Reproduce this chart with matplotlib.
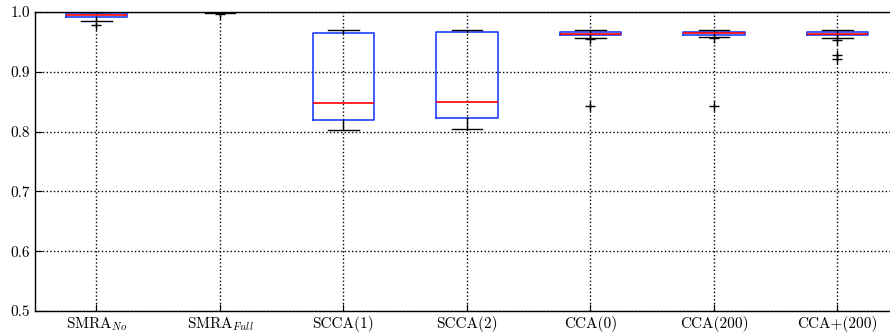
import matplotlib
matplotlib.use("Agg")
import matplotlib.pyplot as plt

plt.rcParams['font.family'] = 'cmr10'
plt.rcParams['mathtext.fontset'] = 'cm'
plt.rcParams['axes.formatter.use_mathtext'] = True

labels = [r'SMRA$_{No}$', r'SMRA$_{Full}$', 'SCCA(1)', 'SCCA(2)',
          'CCA(0)', 'CCA(200)', 'CCA+(200)']
q1 = [0.9921, 0.9995, 0.8194, 0.8222, 0.9615, 0.9620, 0.9615]
med = [0.9945, 1.0000, 0.8473, 0.8490, 0.9640, 0.9645, 0.9640]
q3 = [0.9978, 1.0000, 0.9644, 0.9666, 0.9670, 0.9670, 0.9660]
whislo = [0.9855, 0.9975, 0.8027, 0.8043, 0.9570, 0.9580, 0.9565]
whishi = [1.0000, 1.0000, 0.9700, 0.9700, 0.9700, 0.9700, 0.9700]
fliers = [[0.978], [0.9965], [], [], [0.955, 0.842], [0.956, 0.842],
          [0.953, 0.928, 0.921]]

stats = []
for i in range(len(labels)):
    stats.append(dict(label=labels[i], q1=q1[i], med=med[i], q3=q3[i],
                      whislo=whislo[i], whishi=whishi[i], fliers=fliers[i]))

fig = plt.figure(figsize=(8.9, 3.36), dpi=100)
ax = fig.add_axes([34.75 / 890, 25 / 336, 864.5 / 890, 299 / 336])

ax.bxp(stats, widths=0.5,
       boxprops=dict(color='#1f3fff', linewidth=1.2),
       medianprops=dict(color='red', linewidth=1.2),
       whiskerprops=dict(color='black', linewidth=1.0),
       capprops=dict(color='black', linewidth=1.0),
       flierprops=dict(marker='+', markeredgecolor='black', markersize=7,
                       linestyle='none'))

ax.set_ylim(0.5, 1.0)
ax.set_xlim(0.5, 7.5)
ax.set_yticks([0.5, 0.6, 0.7, 0.8, 0.9, 1.0])
ax.set_yticklabels(['0.5', '0.6', '0.7', '0.8', '0.9', '1.0'])
ax.grid(True, linestyle=':', color='black', linewidth=1.0)
ax.tick_params(direction='in', length=5, labelsize=11, top=False, right=False)
for s in ax.spines.values():
    s.set_linewidth(1.0)

fig.savefig('out.png', dpi=100)
